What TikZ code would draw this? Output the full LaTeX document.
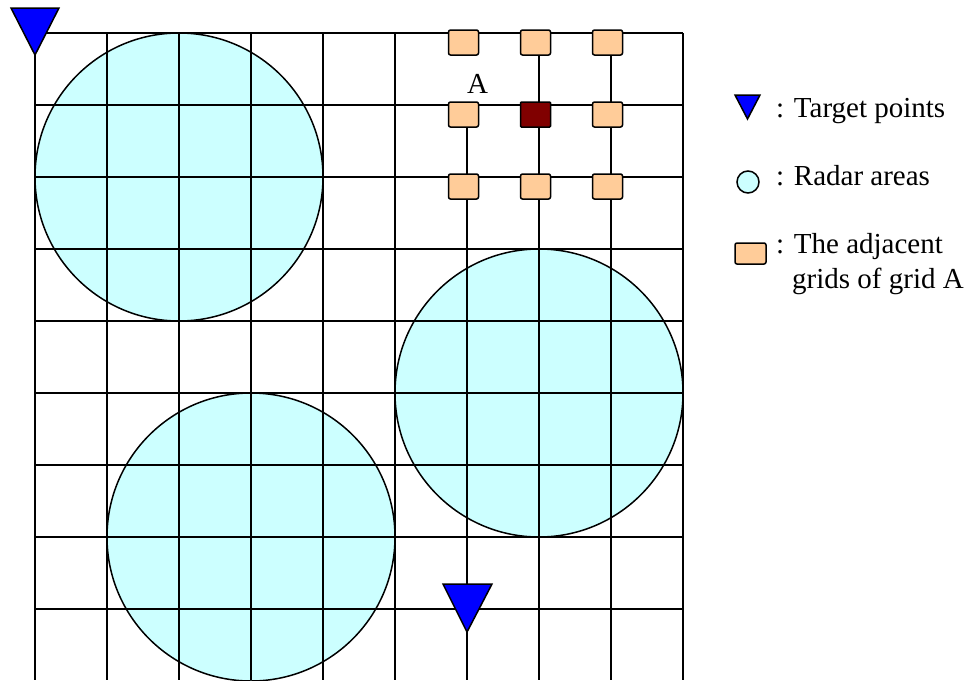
\documentclass[tikz,border=0pt]{standalone}
\usepackage{fontspec}
\setmainfont{Liberation Serif}
\definecolor{radar}{HTML}{CCFFFF}
\definecolor{adj}{HTML}{FFCC99}
\definecolor{gridA}{HTML}{800000}
\definecolor{target}{HTML}{0000FF}
\begin{document}
\begin{tikzpicture}[x=1pt,y=-1pt,
  gline/.style={line width=1.8pt},
  radararea/.style={fill=radar,draw=black,line width=1.5pt},
  adjbox/.style={fill=adj,draw=black,line width=1.5pt,rounded corners=2pt},
  gridAbox/.style={fill=gridA,draw=black,line width=1.5pt,rounded corners=1pt},
  targettri/.style={fill=target,draw=black,line width=1.5pt,line join=miter},
  lbl/.style={font=\fontsize{29}{35}\selectfont,inner sep=0pt,anchor=base west}]
\useasboundingbox (0,0) rectangle (969,680);
% radar areas
\draw[radararea] (179,177) circle (144);
\draw[radararea] (539,393) circle (144);
\draw[radararea] (251,537) circle (144);
% grid
\foreach \x in {35,107,179,251,323,395,539,611,683}
  \draw[gline] (\x,33) -- (\x,680);
\draw[gline] (467,105) -- (467,680);
\foreach \y in {33,105,177,249,321,393,465,537,609}
  \draw[gline] (35,\y) -- (683,\y);
% adjacent grids
\foreach \x/\y in {467/33,539/33,611/33,467/105,611/105,467/177,539/177,611/177}
  \draw[adjbox] (\x-18.5,\y-3) rectangle (\x+11.5,\y+22);
\draw[gridAbox] (539-18.5,105-3) rectangle (539+11.5,105+22);
\node[lbl] (labelA) at (467,93) {A};
% target points
\draw[targettri] (11,8) -- (59,8) -- (35,55) -- cycle;
\draw[targettri] (443,584) -- (492,584) -- (467,632) -- cycle;
% legend
\draw[targettri] (735,95) -- (760,95) -- (747.5,119) -- cycle;
\node[lbl] (legT) at (776,117) {: Target points};
\draw[radararea] (748,182) circle (11);
\node[lbl] (legR) at (776,185) {: Radar areas};
\draw[adjbox] (735,243) rectangle (766,264);
\node[lbl] (legA1) at (776,253) {: The adjacent};
\node[lbl] (legA2) at (792,288) {grids of grid A};
\end{tikzpicture}
\end{document}
